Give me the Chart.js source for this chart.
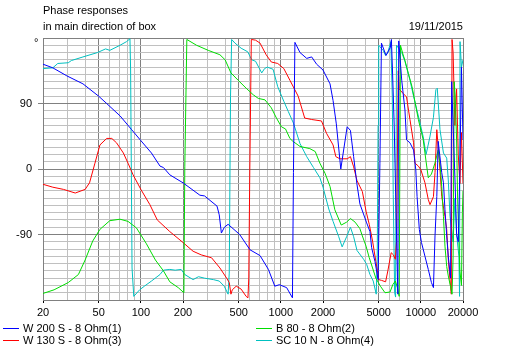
<!DOCTYPE html>
<html>
<head>
<meta charset="utf-8">
<script src="https://cdn.jsdelivr.net/npm/chart.js@4.4.0/dist/chart.umd.min.js"></script>
<style>
body { margin: 0; background: #fff; }
#wrap { position: relative; width: 507px; height: 356px; font-family: "Liberation Sans", Arial, sans-serif; font-size: 11px; color: #000; }
#wrap canvas { position: absolute; left: 0; top: 0; }
.txt { position: absolute; line-height: 11px; white-space: nowrap; }
.key { position: absolute; height: 1px; width: 16px; }
</style>
</head>
<body>
<div id="wrap">
  <canvas id="phase-chart" width="507" height="356"></canvas>
  <div class="txt" style="left:43px;top:5px">Phase responses</div>
  <div class="txt" style="left:43px;top:21px">in main direction of box</div>
  <div class="txt" style="right:44px;top:21px">19/11/2015</div>
  <div class="txt" id="unit" style="left:34px;top:37px"></div>
  <div id="legend"></div>
</div>
<script>
// tick labels
const freqLabels = [20, 50, 100, 200, 500, 1000, 2000, 5000, 10000, 20000];
const phaseTickValues = [-90, 0, 90];
const phaseUnit = '°';

// series names / colours
const seriesNames = ['W 200 S - 8 Ohm(1)', 'B 80 - 8 Ohm(2)', 'W 130 S - 8 Ohm(3)', 'SC 10 N - 8 Ohm(4)'];
const seriesColors = ['#0000ff', '#00dd00', '#ff0000', '#00c0c0'];

// W 200 S
const w200Freq = [20, 23.5, 29.6, 38.6, 50, 57, 71, 86, 100, 119,
    137, 145, 161, 200, 264, 285, 350, 363, 376, 395,
    420, 508, 602, 710, 815, 905, 975, 1100, 1210, 1230,
    1260, 1370, 1530, 1660, 1800, 2000, 2245, 2360, 2490, 2680,
    2975, 3140, 3310, 3490, 3670, 4100, 4330, 4450, 4700, 4950,
    5100, 5230, 5640, 6050, 6160, 6270, 6450, 6650, 6850, 6950,
    7300, 7700, 7900, 8360, 8870, 9200, 9400, 9750, 10100, 10700,
    11300, 11900, 12300, 12620, 13000, 13300, 14100, 14500, 14870, 15300,
    15700, 16300, 16600, 17000, 17500, 18000, 18500, 19000, 19500, 20000];
const w200Phase = [144, 139, 128, 117, 100, 90, 73, 54, 39, 22,
    4, 2, -8, -19, -36, -37, -51, -63, -88, -80,
    -76, -90, -111, -119, -138, -161, -159, -163, -177, -5,
    174, 160, 152, 154, 144, 136, 117, 94, 62, 0,
    58, 53, 17, -20, -48, -74, -86, -108, -127, -152,
    8, 173, 156, 167, 178, 136, 60, -60, -172, 176,
    122, 81, 40, 36, 26, -1, -38, -83, -101, -120,
    -138, -156, -163, -92, -38, 38, -5, -19, -56, -92,
    -120, -150, 120, 60, -10, -90, -100, 0, 140, 40];

// B 80
const b80Freq = [20, 24, 30.3, 35.8, 40, 45.3, 51, 60, 71, 81,
    93, 109, 127, 145, 161, 185, 203, 206, 213, 250,
    303, 367, 400, 440, 495, 565, 635, 690, 770, 855,
    930, 1010, 1080, 1160, 1220, 1370, 1610, 1760, 1900, 2070,
    2245, 2430, 2700, 2950, 3140, 3390, 3670, 3820, 4060, 4280,
    4520, 4770, 5140, 5545, 6025, 6300, 6570, 6800, 7000, 7150,
    7440, 7700, 8150, 8650, 9080, 9600, 10400, 10900, 11300, 11900,
    12600, 13300, 13700, 14100, 14500, 14870, 15300, 15700, 16150, 16700,
    17000, 17300, 17600, 18000, 18300, 18700, 19000, 19500, 19800, 20000];
const b80Phase = [-171, -166, -156, -145, -125, -99, -83, -71, -69, -72,
    -81, -102, -125, -140, -155, -163, -170, 3, 178, 170,
    163, 157, 150, 132, 122, 111, 102, 97, 95, 84,
    70, 58, 55, 42, 38, 31, 28, 24, 8, -6,
    -24, -56, -77, -73, -68, -73, -82, -92, -106, -122,
    -136, -150, -161, -170, -169, -159, -154, -163, -175, 170,
    158, 149, 131, 113, 92, 68, 40, 10, -12, -7,
    8, 26, 8, -24, -65, -106, -134, -147, -158, -172,
    -120, 120, 100, 40, -40, -100, -140, -160, -60, -30];

// W 130 S
const w130Freq = [20, 23.5, 28, 34, 40, 43, 47, 51, 57, 62,
    67, 75, 81, 88, 100, 116, 131, 161, 200, 236,
    270, 320, 367, 410, 428, 440, 450, 480, 520, 565,
    582, 590, 600, 615, 660, 710, 785, 855, 950, 1050,
    1160, 1330, 1480, 1660, 1950, 2120, 2360, 2470, 2640, 2980,
    3140, 3310, 3500, 3820, 4060, 4280, 4520, 4770, 4900, 5000,
    5230, 5600, 5810, 6140, 6370, 6570, 6700, 6900, 7000, 7450,
    7900, 8360, 8870, 9080, 9600, 10000, 10700, 11300, 11620, 12300,
    12620, 13000, 13700, 14100, 14870, 15300, 15700, 16150, 16500, 16700,
    17000, 17500, 18000, 18500, 19000, 19500, 20000];
const w130Phase = [-21, -25, -28, -33, -28, -19, 8, 33, 42, 42,
    36, 22, 8, -8, -28, -49, -70, -86, -101, -113,
    -118, -122, -136, -150, -156, -172, -166, -161, -165, -175,
    -177, -150, 0, 178, 177, 173, 157, 147, 145, 138,
    122, 100, 70, 68, 66, 49, 33, 17, 14, 14,
    17, 3, -16, -31, -58, -76, -99, -127, -140, -152,
    -153, -155, -140, -115, -118, -124, -100, 135, 110, 104,
    99, 68, 36, 8, 4, -1, -19, -42, -49, -38,
    -5, 54, -1, -38, -65, -83, -124, -152, -172, 178,
    160, 60, 110, 20, -20, 50, -20];

// SC 10 N
const sc10Freq = [20, 23.5, 25.5, 30.3, 31.9, 38.6, 49, 56, 60, 71,
    79, 83.6, 84.5, 86.5, 89, 98, 106, 119, 137, 145,
    161, 176, 194, 206, 236, 258, 285, 330, 363, 394,
    420, 428, 437, 445, 470, 520, 580, 620, 660, 730,
    765, 800, 880, 950, 1050, 1130, 1230, 1370, 1530, 1710,
    1900, 2000, 2200, 2360, 2590, 2740, 2950, 3140, 3310, 3500,
    3900, 4100, 4330, 4570, 4800, 4880, 4950, 5000, 5100, 5380,
    5600, 5810, 6100, 6250, 6350, 6500, 6600, 6700, 7300, 7700,
    8360, 8870, 9400, 9900, 10400, 10900, 11600, 12300, 12800, 13100,
    13700, 14500, 15300, 15700, 16150, 17000, 17500, 18000, 18700, 18900,
    19050, 19500, 20000];
const sc10Phase = [138, 139, 145, 146, 149, 154, 160, 165, 163, 170,
    175, 179, 136, -136, -175, -166, -161, -154, -145, -139,
    -138, -139, -138, -145, -152, -148, -150, -152, -154, -161,
    -172, -143, 100, 178, 173, 166, 161, 150, 148, 132,
    138, 140, 137, 113, 93, 79, 63, 35, 17, 2,
    -12, -25, -55, -72, -93, -107, -93, -80, -93, -112,
    -124, -131, -145, -154, -172, -120, 60, 170, 168, 163,
    156, 160, 175, 100, -35, -170, -176, 170, 160, 148,
    122, 100, 80, 62, 44, 20, 44, 71, 109, 111,
    54, 22, 15, -15, -65, -100, -40, -90, -120, -175,
    175, 140, 150];

Chart.defaults.font.family = '"Liberation Sans", Arial, sans-serif';
Chart.defaults.font.size = 11;
Chart.defaults.color = '#000';

const seriesFreq = [w200Freq, b80Freq, w130Freq, sc10Freq];
const seriesPhase = [w200Phase, b80Phase, w130Phase, sc10Phase];

// grid values: every integer step of each decade, every 10 degrees
const freqGrid = [];
[10, 100, 1000, 10000].forEach(d => {
    for (let m = 1; m <= 9; m++) {
        const v = m * d;
        if (v >= 20 && v <= 20000) freqGrid.push(v);
    }
});
const phaseGrid = [];
for (let p = -180; p <= 180; p += 10) phaseGrid.push(p);

const datasets = seriesNames.map((name, i) => ({
    label: name,
    data: seriesFreq[i].map((f, j) => ({ x: f, y: seriesPhase[i][j] })),
    borderColor: seriesColors[i],
    borderWidth: 1,
    pointRadius: 0,
    tension: 0,
    fill: false
}));

const ctx = document.getElementById('phase-chart').getContext('2d');
new Chart(ctx, {
    type: 'line',
    data: { datasets: datasets },
    options: {
        responsive: false,
        animation: false,
        events: [],
        layout: { padding: { top: 38, right: 44, left: 0, bottom: 0 } },
        plugins: {
            legend: { display: false },
            tooltip: { enabled: false }
        },
        scales: {
            x: {
                type: 'logarithmic',
                min: 20,
                max: 20000,
                afterBuildTicks: s => { s.ticks = freqGrid.map(v => ({ value: v })); },
                afterFit: s => { s.height = 56; },
                ticks: {
                    autoSkip: false,
                    maxRotation: 0,
                    padding: 3,
                    callback: v => freqLabels.includes(v) ? String(v) : ''
                },
                grid: {
                    color: c => freqLabels.includes(c.tick.value) ? '#808080' : '#c0c0c0',
                    tickColor: c => freqLabels.includes(c.tick.value) ? '#000' : 'rgba(0,0,0,0)',
                    tickLength: 3
                },
                border: { color: '#808080' }
            },
            y: {
                min: -180,
                max: 180,
                afterBuildTicks: s => { s.ticks = phaseGrid.map(v => ({ value: v })); },
                afterFit: s => { s.width = 43; },
                ticks: {
                    autoSkip: false,
                    padding: 6,
                    callback: v => phaseTickValues.includes(v) ? String(v) : ''
                },
                grid: {
                    color: c => c.tick.value % 90 === 0 ? '#808080' : '#c0c0c0',
                    tickColor: c => phaseTickValues.includes(c.tick.value) ? '#808080' : 'rgba(0,0,0,0)',
                    tickLength: 5
                },
                border: { color: '#808080' }
            }
        }
    }
});

document.getElementById('unit').textContent = phaseUnit;

// two-column legend under the plot
const legend = document.getElementById('legend');
seriesNames.forEach((name, i) => {
    const col = i % 2, row = Math.floor(i / 2);
    const left = col === 0 ? 3 : 256;
    const top = 323 + row * 12;
    const key = document.createElement('div');
    key.className = 'key';
    key.style.left = left + 'px';
    key.style.top = (top + 5) + 'px';
    key.style.background = seriesColors[i];
    legend.appendChild(key);
    const label = document.createElement('div');
    label.className = 'txt';
    label.style.left = (left + 20) + 'px';
    label.style.top = top + 'px';
    label.textContent = name;
    legend.appendChild(label);
});
</script>
</body>
</html>
